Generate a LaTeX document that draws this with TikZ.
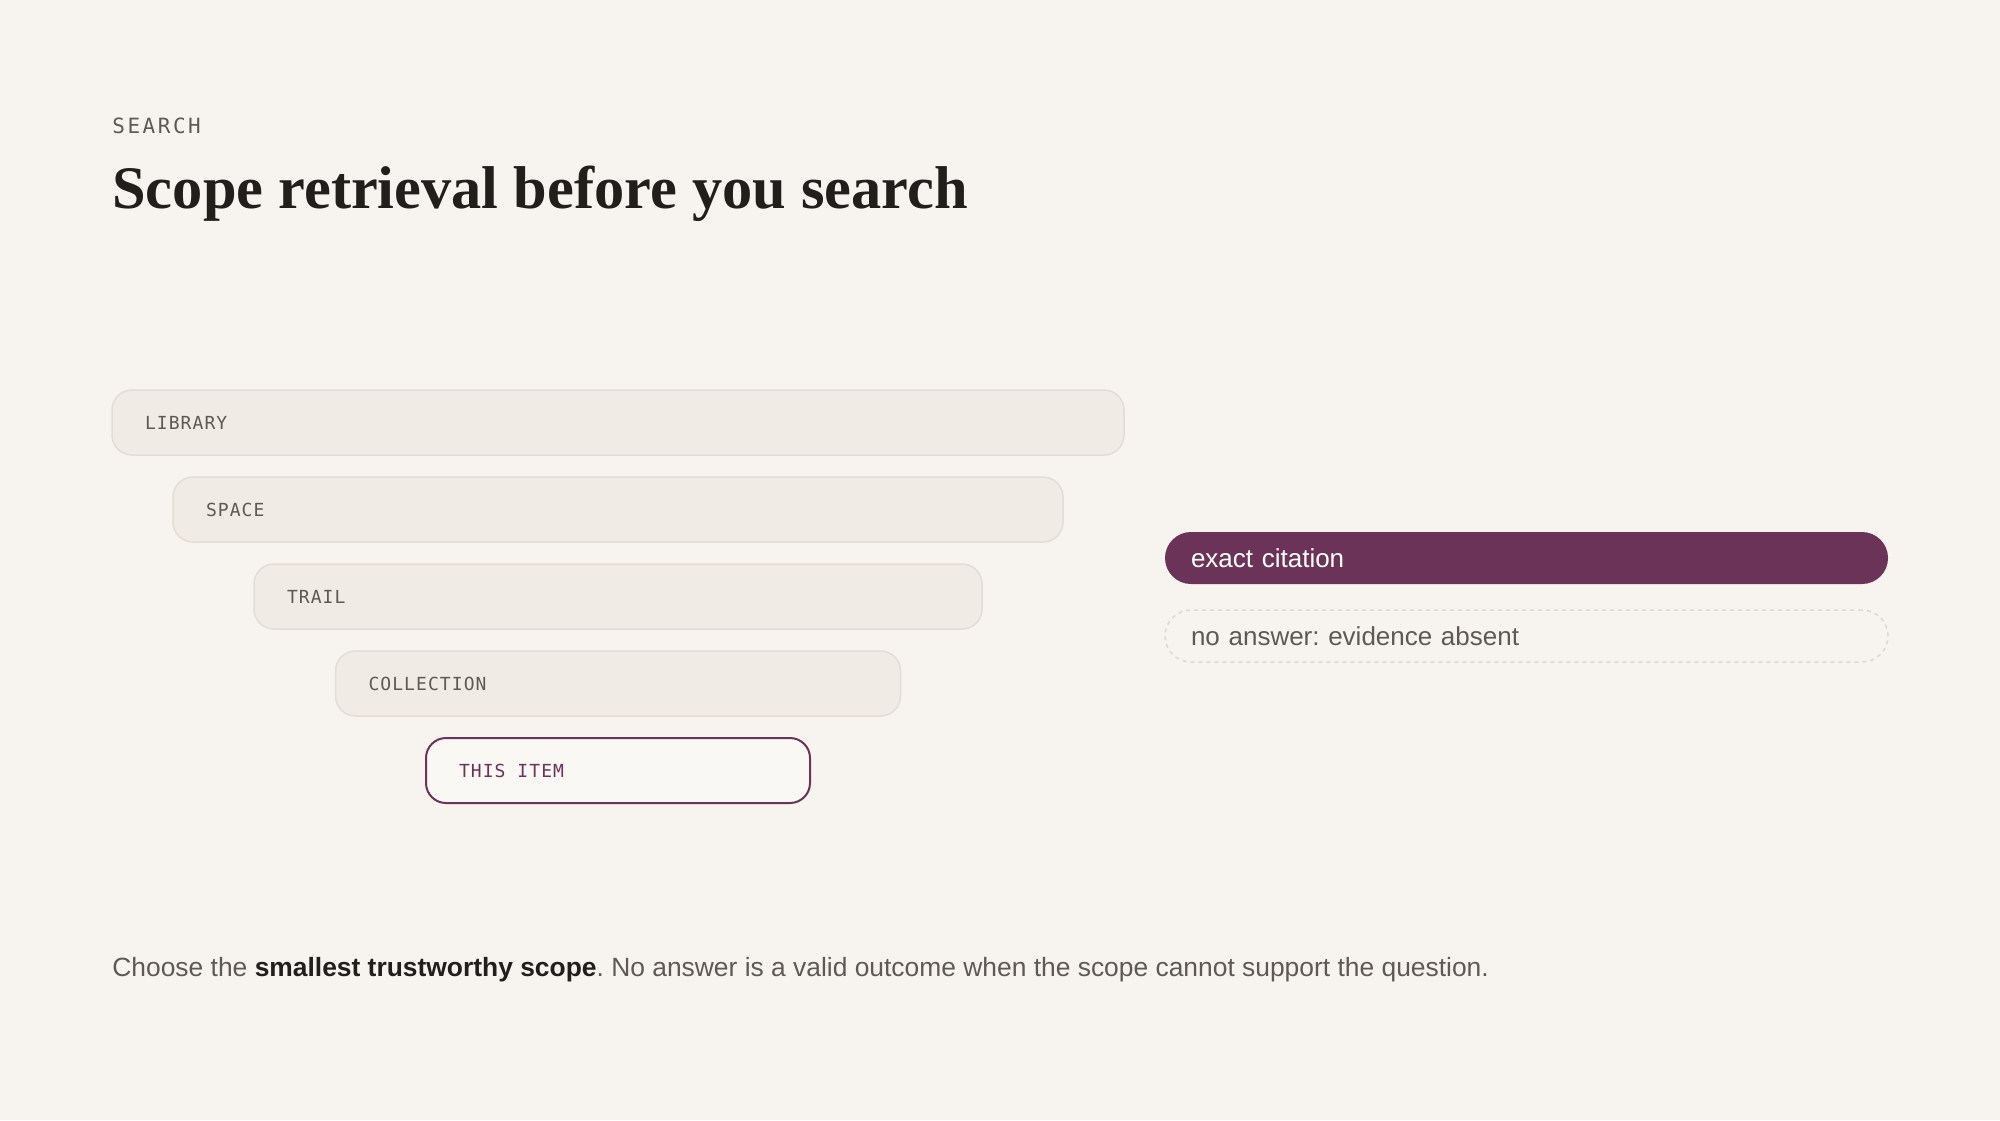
\documentclass[tikz,border=0pt]{standalone}
\usepackage{fontspec}
\setmainfont{Liberation Sans}
\newfontfamily\headfont{Liberation Serif}
\newfontfamily\tagfont[LetterSpace=6]{DejaVu Sans Mono}
\newfontfamily\kickerfont[LetterSpace=12]{DejaVu Sans Mono}
\usetikzlibrary{positioning}
\definecolor{paper}{HTML}{F7F4EF}
\definecolor{boxfill}{HTML}{F0ECE5}
\definecolor{boxline}{HTML}{E2DDD5}
\definecolor{inkgray}{HTML}{5E5953}
\definecolor{ink}{HTML}{221E1B}
\definecolor{plum}{HTML}{6B3357}
\definecolor{itemfill}{HTML}{FAF8F4}
\definecolor{dashline}{HTML}{DDD8D0}
\tikzset{
  band/.style       = { rectangle, minimum height=32.5pt, text depth=0pt, outer sep=0pt, align=left },
  scope/.style      = { band, inner xsep=16.5pt, rounded corners=10pt, fill=boxfill, draw=boxline,
                        line width=0.75pt, text=inkgray, font=\tagfont\fontsize{9}{9}\selectfont },
  current/.style    = { scope, fill=itemfill, draw=plum, line width=1pt, text=plum },
  answer/.style     = { band, minimum height=26pt, inner xsep=13pt, rounded corners=13pt,
                        font=\fontsize{13}{13}\selectfont },
  cited/.style      = { answer, fill=plum, text=white },
  absent/.style     = { answer, draw=dashline, line width=0.75pt, dash pattern=on 2pt off 2pt, text=inkgray },
}

\begin{document}
\frenchspacing
\begin{tikzpicture}[x=0.5pt,y=-0.5pt]
  \fill [paper] (0,0) rectangle (2000,1120);

  \node (kicker) [anchor=base west,inner sep=0pt,text=inkgray,
                  font=\kickerfont\fontsize{10.5}{10.5}\selectfont] at (112,133) {SEARCH};
  \node (title)  [anchor=base west,inner sep=0pt,text=ink,
                  font=\headfont\bfseries\fontsize{30.2}{30.2}\selectfont] at (112,208)
                 {Scope retrieval before you search};

  % nested scopes, widest first
  \node (library)    [scope,text width=473pt]                        at (618,422.5) {LIBRARY};
  \node (space)      [scope,text width=412pt,below=11pt of library]    {SPACE};
  \node (trail)      [scope,text width=331pt,below=11pt of space]      {TRAIL};
  \node (collection) [scope,text width=249.5pt,below=11pt of trail]    {COLLECTION};
  \node (item)       [current,text width=159pt,below=11pt of collection] {THIS\hspace{0.66em}ITEM};

  % outcomes
  \node (citation) [cited,text width=335.5pt]                 at (1526.5,558) {exact citation};
  \node (noanswer) [absent,text width=335.5pt,below=13pt of citation] {no answer: evidence absent};

  \node (note) [anchor=base west,inner sep=0pt,text=inkgray,font=\fontsize{13.2}{13.2}\selectfont] at (112,976)
       {Choose the \textbf{\color{ink}smallest trustworthy scope}. No answer is a valid outcome when the scope cannot support the question.};
\end{tikzpicture}
\end{document}
